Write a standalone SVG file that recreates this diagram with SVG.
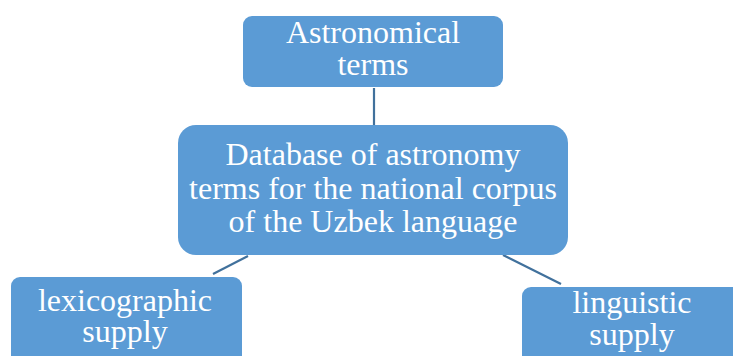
<svg xmlns="http://www.w3.org/2000/svg" width="733" height="356" viewBox="0 0 733 356">
  <style>
    .box { fill: #5B9BD5; }
    .lbl { fill: #FFFFFF; font-family: "Liberation Serif", "Times New Roman", serif; font-size: 32px; text-anchor: middle; }
    .link { stroke: #41719C; stroke-width: 2.2; fill: none; }
  </style>
  <rect width="733" height="356" fill="#FFFFFF"/>
  <g id="connectors">
    <line class="link" x1="374" y1="88" x2="374" y2="125"/>
    <line class="link" x1="248" y1="256" x2="213" y2="274"/>
    <line class="link" x1="503" y1="255" x2="561" y2="284"/>
  </g>
  <g id="astronomical-terms">
    <rect class="box" x="243" y="16" width="260" height="71" rx="9"/>
    <text class="lbl" x="373" y="43">Astronomical</text>
    <text class="lbl" x="373" y="75">terms</text>
  </g>
  <g id="database">
    <rect class="box" x="178" y="125" width="390" height="130" rx="18"/>
    <text class="lbl" x="373" y="165">Database of astronomy</text>
    <text class="lbl" x="373" y="199">terms for the national corpus</text>
    <text class="lbl" x="373" y="232">of the Uzbek language</text>
  </g>
  <g id="lexicographic-supply">
    <rect class="box" x="11" y="277" width="231" height="95" rx="9"/>
    <text class="lbl" x="125" y="311">lexicographic</text>
    <text class="lbl" x="125" y="342">supply</text>
  </g>
  <g id="linguistic-supply">
    <rect class="box" x="522" y="287" width="230" height="85" rx="9"/>
    <text class="lbl" x="632" y="313">linguistic</text>
    <text class="lbl" x="632" y="345">supply</text>
  </g>
</svg>
